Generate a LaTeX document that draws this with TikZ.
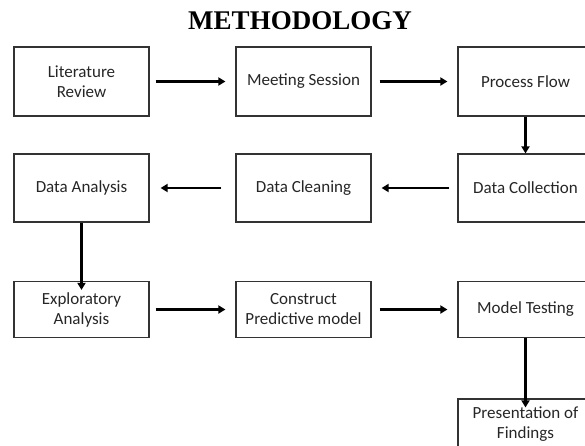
\documentclass[tikz,border=0pt]{standalone}
\usepackage{fontspec}
\setmainfont{Carlito}
\newfontfamily\titlefont{Liberation Serif}
\usetikzlibrary{arrows.meta}
\begin{document}
\begin{tikzpicture}[x=1pt,y=-1pt,
  stage/.style={draw=black!80,line width=1.2pt,align=center,inner sep=0pt,
    text=black!85,font=\fontsize{17}{20}\selectfont,minimum width=135pt},
  flow/.style={line width=2.4pt,-{Triangle[length=7pt,width=8pt]}}]
  \useasboundingbox (0,0) rectangle (585,445);
  \node[font=\titlefont\bfseries\fontsize{27}{30}\selectfont] (title) at (300,21) {METHODOLOGY};
  % row 1
  \node[stage,minimum height=69pt] (lit) at (81.5,81.5) {Literature\\Review};
  \node[stage,minimum height=69pt] (meet) at (303.5,81.5) {Meeting Session};
  \node[stage,minimum height=69pt] (proc) at (525.5,81.5) {Process Flow};
  % row 2
  \node[stage,minimum height=68pt] (ana) at (81.5,188) {Data Analysis};
  \node[stage,minimum height=68pt] (clean) at (303.5,188) {Data Cleaning};
  \node[stage,minimum height=68pt] (coll) at (525.5,188) {Data Collection};
  % row 3
  \node[stage,minimum height=56pt] (expl) at (81.5,309.5) {Exploratory\\Analysis};
  \node[stage,minimum height=56pt] (cons) at (303.5,309.5) {Construct\\Predictive model};
  \node[stage,minimum height=56pt] (test) at (525.5,309.5) {Model Testing};
  % row 4 (its lower edge runs past the page)
  \node[stage,minimum height=50pt] (pres) at (525.5,424) {Presentation of\\Findings};
  % connectors
  \draw[flow] ([xshift=6pt]lit.east) -- ([xshift=-10pt]meet.west);
  \draw[flow] ([xshift=8pt]meet.east) -- ([xshift=-10pt]proc.west);
  \draw[flow] (proc.south) -- (coll.north);
  \draw[flow] ([xshift=-8pt]coll.west) -- ([xshift=10pt]clean.east);
  \draw[flow] ([xshift=-14pt]clean.west) -- ([xshift=11pt]ana.east);
  \draw[flow] (ana.south) -- ([yshift=-9pt]expl.north);
  \draw[flow] ([xshift=6pt]expl.east) -- ([xshift=-10pt]cons.west);
  \draw[flow] ([xshift=8pt]cons.east) -- ([xshift=-10pt]test.west);
  \draw[flow] (test.south) -- ([yshift=-9pt]pres.north);
\end{tikzpicture}
\end{document}
